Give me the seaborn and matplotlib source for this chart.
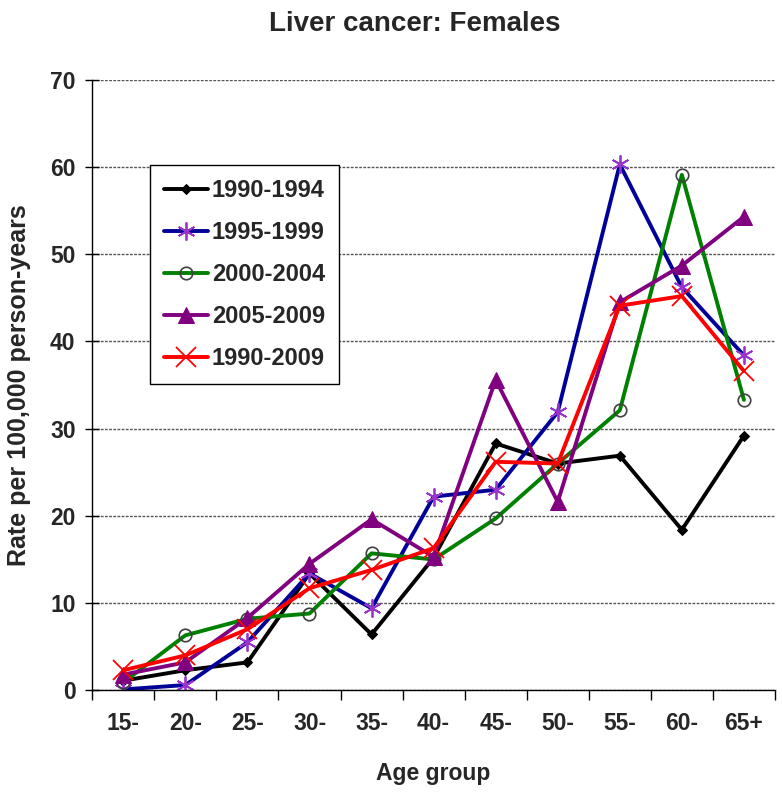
import numpy as np
import matplotlib
matplotlib.use("Agg")
import matplotlib.pyplot as plt
import seaborn as sns

# Data
age_groups = ["15-", "20-", "25-", "30-", "35-", "40-", "45-", "50-", "55-", "60-", "65+"]
p1990_1994 = [1.1, 2.3, 3.2, 13.4, 6.4, 15.2, 28.3, 26.0, 26.9, 18.4, 29.2]
p1995_1999 = [0.1, 0.6, 5.5, 13.4, 9.4, 22.2, 23.0, 31.9, 60.3, 46.2, 38.4]
p2000_2004 = [0.9, 6.3, 8.2, 8.8, 15.7, 15.0, 19.7, 26.0, 32.1, 59.1, 33.3]
p2005_2009 = [1.8, 3.2, 8.3, 14.5, 19.6, 15.3, 35.6, 21.6, 44.5, 48.7, 54.3]
p1990_2009 = [2.3, 4.0, 7.0, 11.7, 13.8, 16.3, 26.2, 26.0, 44.1, 45.2, 36.6]

series_labels = ["1990-1994", "1995-1999", "2000-2004", "2005-2009", "1990-2009"]
series_values = [p1990_1994, p1995_1999, p2000_2004, p2005_2009, p1990_2009]

sns.set_style("white")
plt.rcParams["font.family"] = ["Liberation Sans", "DejaVu Sans"]
plt.rcParams["font.weight"] = "bold"

x = np.arange(len(age_groups))

fig = plt.figure(figsize=(7.82, 7.98), dpi=100)
ax = fig.add_axes([0.118, 0.135, 0.873, 0.765])

styles = [
    dict(color="black", marker="D", markersize=5, markerfacecolor="black", markeredgecolor="black"),
    dict(color="#000099", marker=(6, 2, 0), markersize=13, markeredgecolor="#9933cc", markeredgewidth=1.3),
    dict(color="#008000", marker="o", markersize=9, markerfacecolor="none", markeredgecolor="#404040", markeredgewidth=1.2),
    dict(color="#800080", marker="^", markersize=11, markerfacecolor="#800080", markeredgecolor="#800080"),
    dict(color="#ff0000", marker="x", markersize=14, markeredgecolor="#ff0000", markeredgewidth=1.3),
]

for label, vals, st in zip(series_labels, series_values, styles):
    sns.lineplot(x=x, y=vals, ax=ax, label=label, linewidth=2.8, sort=False, **st)

ax.set_xlim(-0.5, len(age_groups) - 0.5)
ax.set_ylim(0, 70)
ax.set_yticks(np.arange(0, 71, 10))
ax.set_xticks(x)
ax.set_xticklabels(age_groups)
ax.set_xticks(np.arange(-0.5, len(age_groups), 1), minor=True)
ax.tick_params(axis="x", which="major", length=0, labelsize=16.5, pad=16)
ax.tick_params(axis="x", which="minor", length=7, width=1, direction="out", bottom=True, color="black")
ax.tick_params(axis="y", length=10, width=1, direction="inout", left=True, labelsize=16.5, pad=7, color="black")

ax.yaxis.grid(True, linestyle=(0, (2, 1)), color="#555555", linewidth=1.0)
ax.xaxis.grid(False)
ax.set_axisbelow(True)
for s in ["top", "right"]:
    ax.spines[s].set_visible(False)
for s in ["left", "bottom"]:
    ax.spines[s].set_color("black")
    ax.spines[s].set_linewidth(1.0)

ax.set_xlabel("Age group", fontsize=16.5, fontweight="bold")
ax.xaxis.set_label_coords(0.5, -0.118)
ax.set_ylabel("Rate per 100,000 person-years", fontsize=18, fontweight="bold")
ax.yaxis.set_label_coords(-0.09, 0.5)
fig.text(0.53, 1 - 24 / 798, "Liver cancer: Females", fontsize=20, fontweight="bold",
         ha="center", va="center")

leg = ax.legend(loc="upper left", bbox_to_anchor=(0.085, 0.86), fontsize=17, frameon=True,
                fancybox=False, edgecolor="black", framealpha=1, borderpad=0.6,
                labelspacing=0.8, handlelength=1.85, handletextpad=0.15, borderaxespad=0)
leg.get_frame().set_linewidth(1.0)

fig.savefig("out.png", dpi=100)
